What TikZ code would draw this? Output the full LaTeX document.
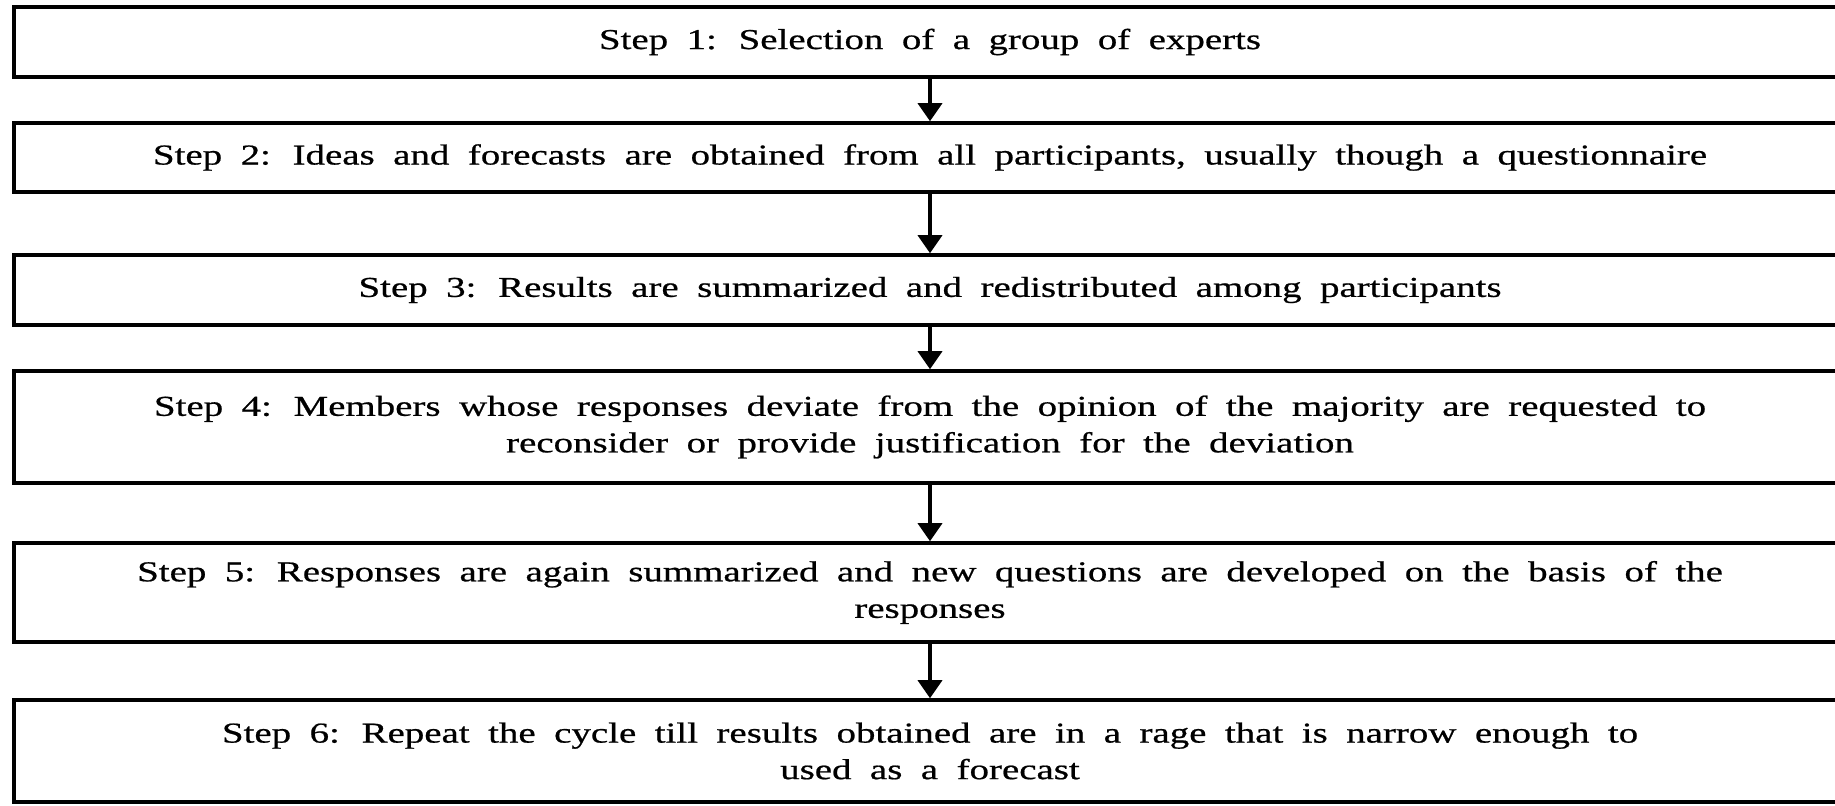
\documentclass[tikz,border=0pt]{standalone}
\usepackage{fontspec}
\setmainfont{Liberation Serif}[FakeStretch=1.35, FakeBold=0.7, WordSpace=1.9]
\usetikzlibrary{arrows.meta}

\begin{document}
\begin{tikzpicture}[
    every node/.style={font=\fontsize{8.2}{10.4}\selectfont, align=center},
    stepbox/.style={draw, line width=1pt, minimum width=18.32cm, inner sep=0pt},
    flow/.style={-{Triangle[width=2.4mm, length=1.8mm]}, line width=1pt}]
  % page frame
  \useasboundingbox (0,0) rectangle (18.35,-8.06);
  \clip (0,0) rectangle (18.35,-8.06);
  % steps of the procedure
  \node[stepbox, minimum height=0.70cm] (s1) at (9.30,-0.42) {Step 1: Selection of a group of experts};
  \node[stepbox, minimum height=0.69cm] (s2) at (9.30,-1.575) {Step 2: Ideas and forecasts are obtained from all participants, usually though a questionnaire};
  \node[stepbox, minimum height=0.70cm] (s3) at (9.30,-2.90) {Step 3: Results are summarized and redistributed among participants};
  \node[stepbox, minimum height=1.12cm] (s4) at (9.30,-4.27) {Step 4: Members whose responses deviate from the opinion of the majority are requested to\\reconsider or provide justification for the deviation};
  \node[stepbox, minimum height=0.99cm] (s5) at (9.30,-5.925) {Step 5: Responses are again summarized and new questions are developed on the basis of the\\responses};
  \node[stepbox, minimum height=1.02cm] (s6) at (9.30,-7.51) {Step 6: Repeat the cycle till results obtained are in a rage that is narrow enough to\\used as a forecast};
  % arrows between steps
  \draw[flow] (s1) -- (s2);
  \draw[flow] (s2) -- (s3);
  \draw[flow] (s3) -- (s4);
  \draw[flow] (s4) -- (s5);
  \draw[flow] (s5) -- (s6);
\end{tikzpicture}
\end{document}
